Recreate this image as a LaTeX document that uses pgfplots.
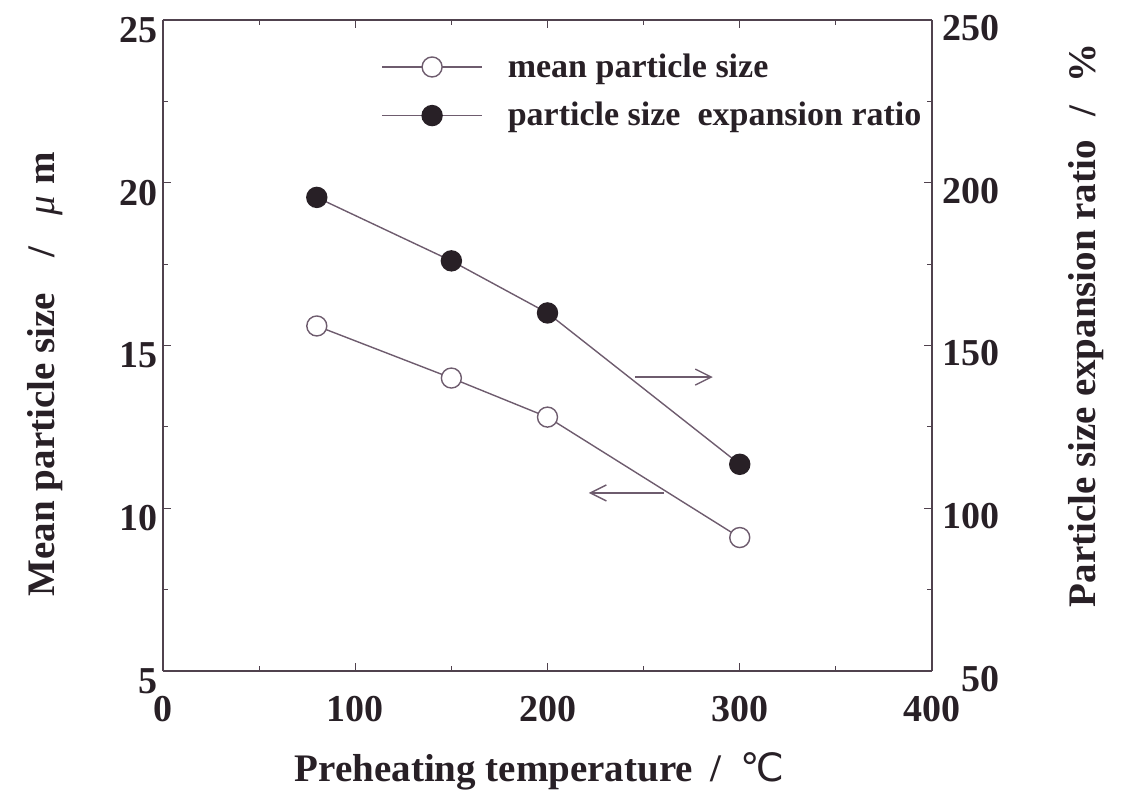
\documentclass[border=0pt]{standalone}
\usepackage{fontspec}
\setmainfont{Liberation Serif}
\newfontfamily\symfont{DejaVu Sans}
\usepackage{pgfplots}
\pgfplotsset{compat=1.18}
\usetikzlibrary{arrows.meta}

\definecolor{ink}{RGB}{40,32,38}
\definecolor{axcol}{RGB}{80,66,78}
\definecolor{linecol}{RGB}{110,92,110}

\pgfplotsset{
  common/.style={
    scale only axis, width=384.5pt, height=325.5pt,
    at={(0pt,0pt)}, anchor=south west,
    xmin=0, xmax=400,
    xtick={0,100,...,400}, minor xtick={50,150,250,350},
    tick align=inside, major tick length=4pt, minor tick length=2.5pt,
    every tick/.style={axcol, line width=0.6pt},
    axis line style={axcol, line width=0.7pt},
    /pgf/number format/assume math mode=true,
    ticklabel style={font=\fontsize{19}{19}\selectfont\bfseries, text=ink},
    label style={font=\fontsize{19.5}{19.5}\selectfont\bfseries, text=ink},
  },
  openser/.style={linecol, line width=0.7pt, mark=*, mark size=5pt,
    mark options={fill=white, draw=linecol, line width=0.7pt}},
  fullser/.style={linecol, line width=0.7pt, mark=*, mark size=5pt,
    mark options={fill=ink, draw=ink}},
}

\begin{document}
\begin{tikzpicture}
% left axis: mean particle size
\begin{axis}[common,
  ymin=5, ymax=25,
  ytick={5,10,...,25}, minor ytick={7.5,12.5,17.5,22.5},
  axis y line*=left,
  xticklabel style={yshift=-9pt},
  yticklabel style={xshift=1pt, yshift=-5pt},
  xlabel={Preheating temperature\hspace{0.45em}/\hspace{0.5em}{\mdseries\symfont ℃}},
  xlabel style={at={(axis description cs:0.49,0)}, anchor=center, yshift=-50pt},
  ylabel={Mean particle size\hspace{0.9em}/\hspace{0.8em}{\mdseries\itshape μ}\hspace{0.3em}m},
  ylabel style={at={(axis description cs:-0.153,0.456)}, anchor=center, rotate=0},
]
\addplot[openser] coordinates {(80,15.6) (150,14.0) (200,12.8) (300,9.1)};
\draw[linecol, line width=0.7pt, -{Straight Barb[length=8pt,width=8pt]}]
  (axis cs:260.5,10.47) -- (axis cs:221.5,10.47);
\end{axis}
% right axis: particle size expansion ratio
\begin{axis}[common,
  ymin=50, ymax=250,
  ytick={50,100,...,250}, minor ytick={75,125,175,225},
  axis y line*=right, axis x line=none,
  yticklabel style={anchor=east, inner xsep=0pt, xshift=34pt, yshift=-4pt},
  ylabel={Particle size expansion ratio\hspace{0.6em}/\hspace{0.6em}\%},
  ylabel style={at={(axis description cs:1.2,0.531)}, anchor=center, rotate=0},
  legend style={draw=none, fill=none, at={(axis description cs:0.2835,0.955)},
    anchor=north west, inner sep=0pt, row sep=7pt,
    font=\fontsize{17}{17}\selectfont\bfseries, text=ink,
    /tikz/every odd column/.append style={column sep=10.5pt}},
  legend cell align=left,
  legend image code/.code={\draw[mark repeat=2, mark phase=2, #1]
    plot coordinates {(0pt,0pt) (25pt,0pt) (50pt,0pt)};},
]
\addlegendimage{openser}
\addlegendentry{mean particle size}
\addplot[fullser] coordinates {(80,195.5) (150,176) (200,160) (300,113.5)};
\addlegendentry{particle size\ \ expansion ratio}
\draw[linecol, line width=0.7pt, -{Straight Barb[length=8pt,width=8pt]}]
  (axis cs:245.5,140.3) -- (axis cs:286,140.3);
\end{axis}
\pgfresetboundingbox
\path (-81.5pt,-68pt) rectangle (479.5pt,335.5pt);
\end{tikzpicture}
\end{document}
